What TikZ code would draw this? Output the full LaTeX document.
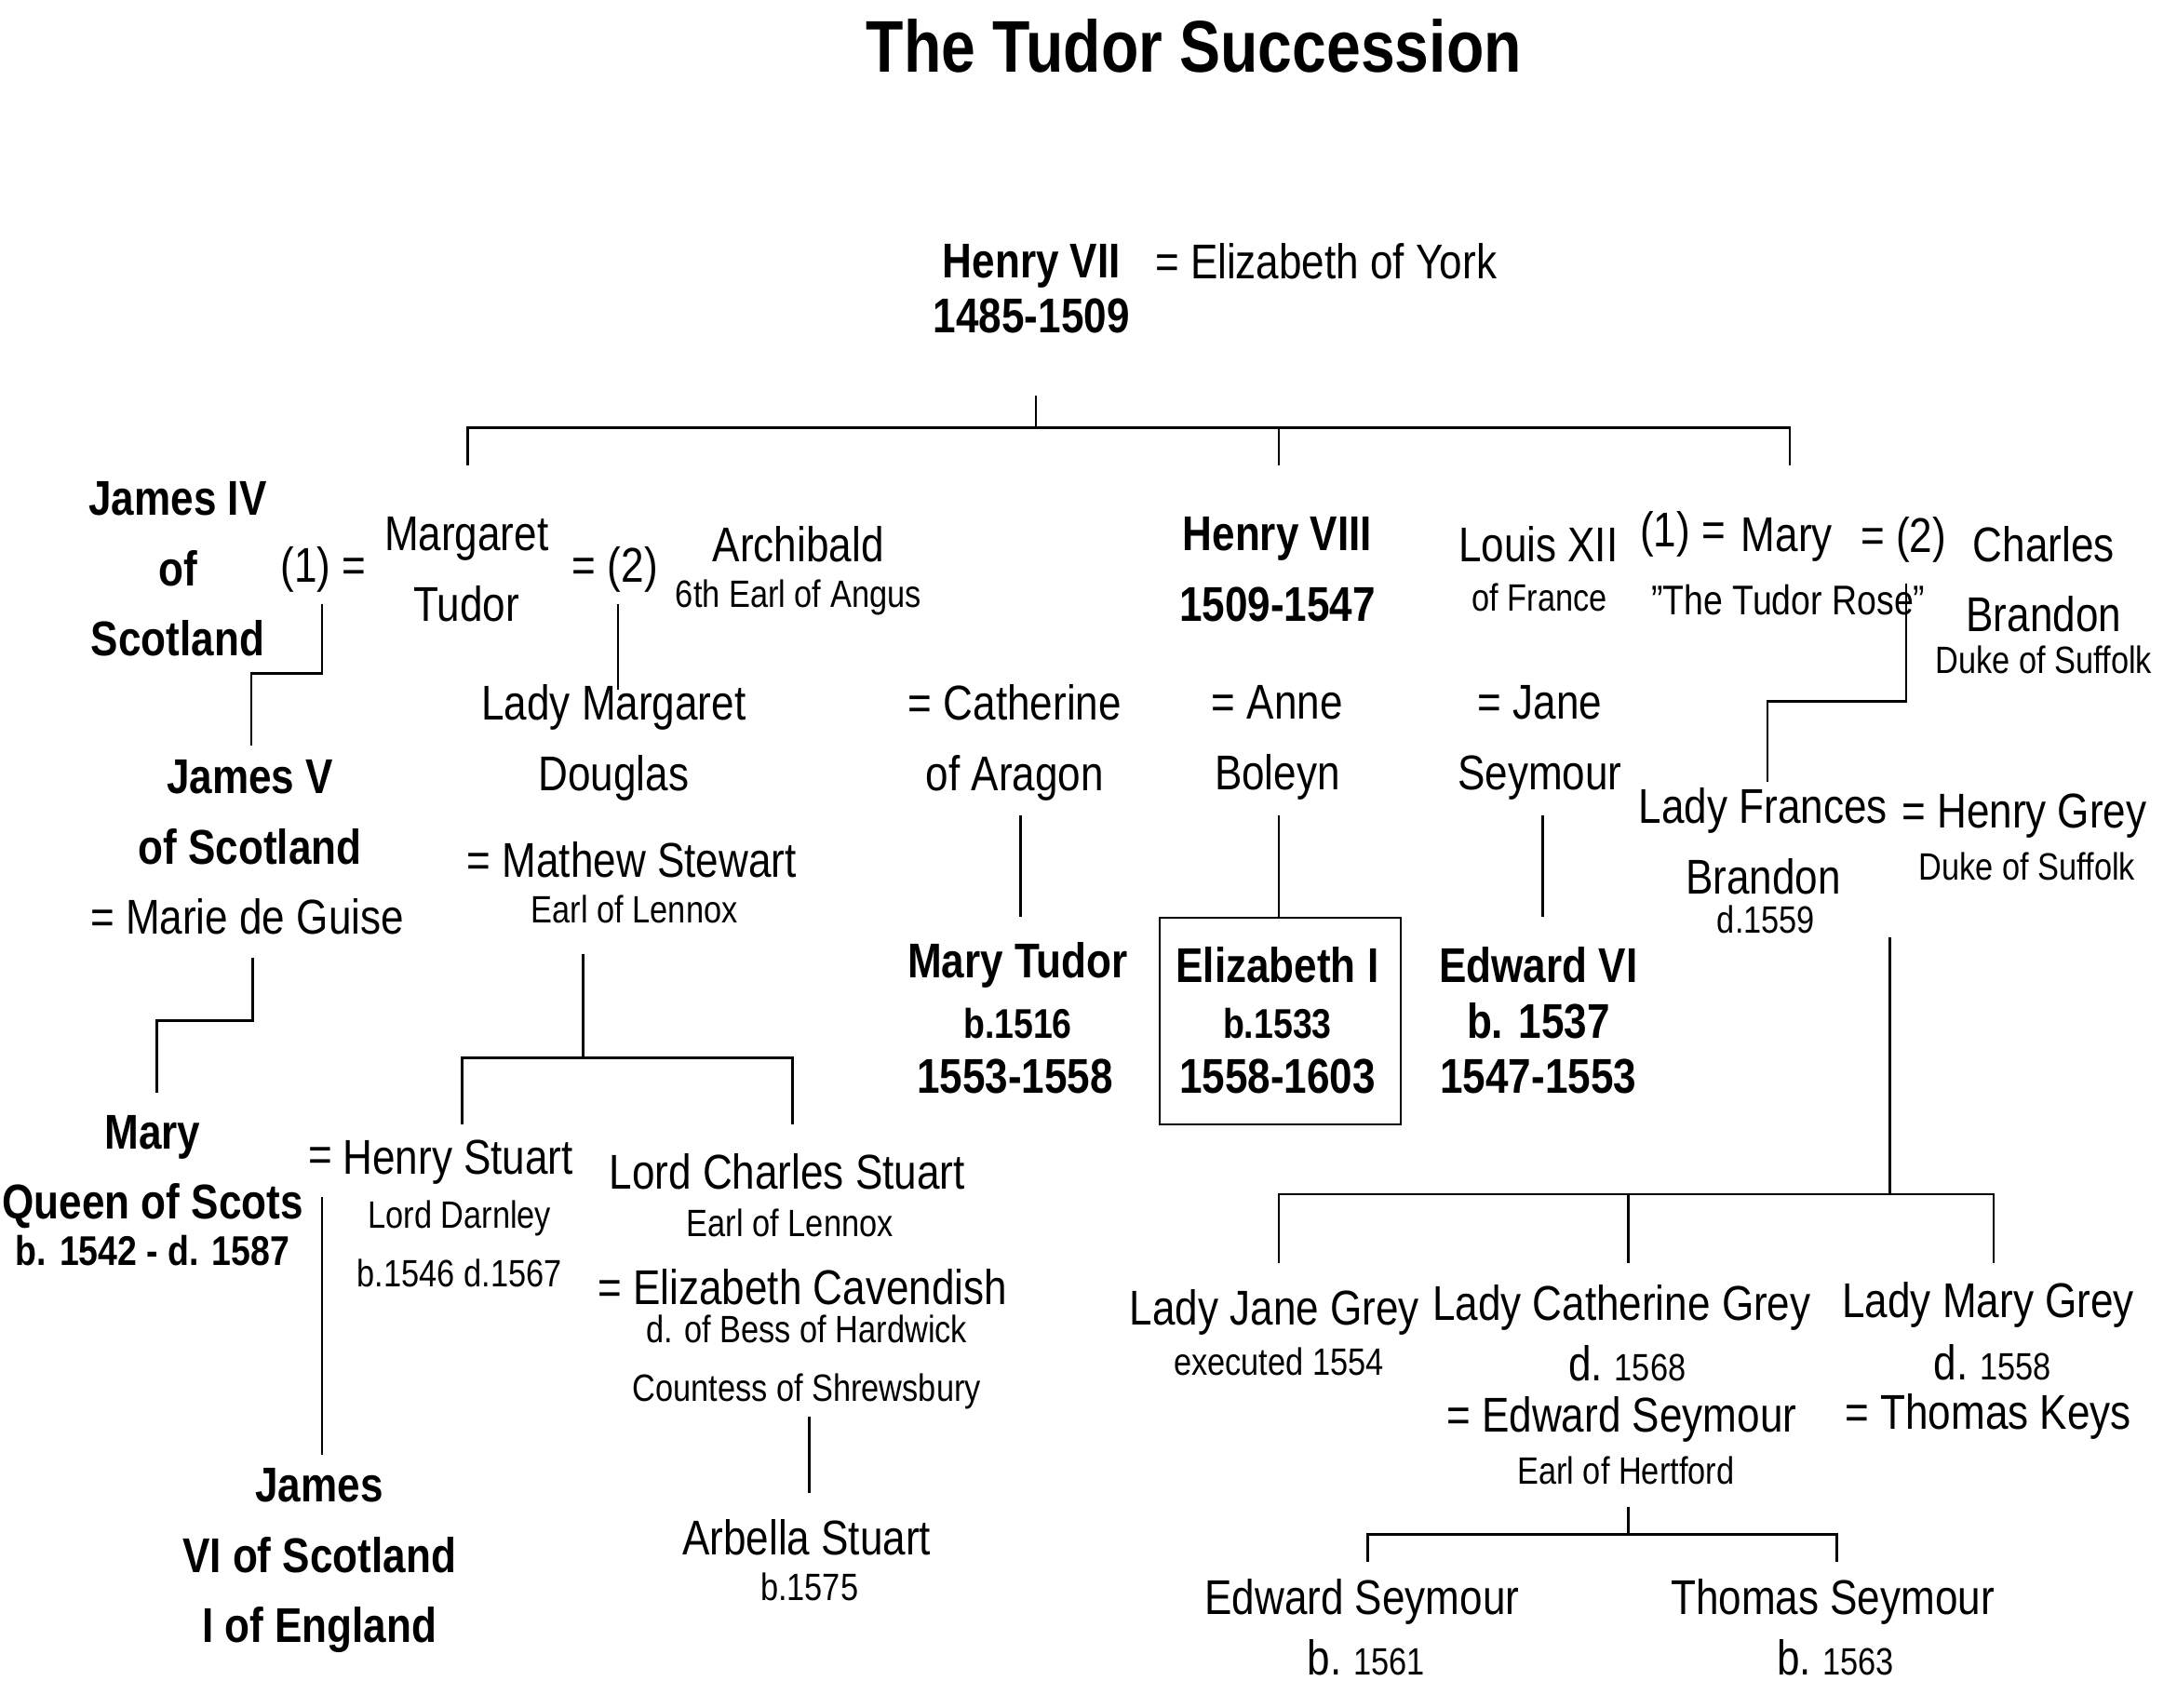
\documentclass[tikz,border=0pt]{standalone}
\usepackage{fontspec}
\setmainfont{Liberation Sans}[FakeStretch=0.84]
\begin{document}
\begin{tikzpicture}[x=0.01cm,y=-0.01cm,
  nm/.style={inner sep=0pt,align=center,font=\fontsize{10}{11.4}\selectfont},
  bnm/.style={nm,font=\fontsize{10}{11.4}\selectfont\bfseries},
  sm/.style={inner sep=0pt,align=center,font=\fontsize{7.8}{9}\selectfont},
  bsm/.style={sm,font=\fontsize{7.8}{9}\selectfont\bfseries},
  ln/.style={draw,line width=0.5pt}]
\useasboundingbox (0,0) rectangle (1568,1230);
\node[inner sep=0pt,font=\fontsize{15}{18}\selectfont\bfseries] (title) at (860,33) {The Tudor Succession};
% Henry VII
\node[bnm] (henry7) at (743,208) {Henry VII\\1485-1509};
\node[nm] (eyork) at (955,188) {= Elizabeth of York};
\coordinate (h7a) at (746,285); \coordinate (h7b) at (746,308);
\coordinate (hl) at (337,308); \coordinate (hr) at (1289,308); \coordinate (hm) at (921,308);
\coordinate (hld) at (337,335); \coordinate (hrd) at (1289,335); \coordinate (hmd) at (921,335);
\draw[ln] (h7a) -- (h7b);
\draw[ln] (hld) -- (hl) -- (hr) -- (hrd);
\draw[ln] (hm) -- (hmd);
% Margaret's line
\node[bnm] (james4) at (128,410) {James IV\\[3pt]of\\[3pt]Scotland};
\node[nm] (m1) at (233,410) {(1) =};
\node[nm] (margaret) at (336,410) {Margaret\\[3pt]Tudor};
\node[nm] (m2) at (443,410) {= (2)};
\node[nm] (archibald) at (575,392) {Archibald};
\node[sm] (angus) at (575,430) {6th Earl of Angus};
\node[bnm] (james5) at (180,585) {James V\\[3pt]of Scotland};
\node[nm] (marie) at (178,660) {= Marie de Guise};
\coordinate (j4a) at (232,435); \coordinate (j4b) at (232,485);
\coordinate (j4c) at (181,485); \coordinate (j4d) at (181,537);
\draw[ln] (j4a) -- (j4b) -- (j4c) -- (j4d);
\coordinate (j5a) at (182,690); \coordinate (j5b) at (182,735);
\coordinate (j5c) at (113,735); \coordinate (j5d) at (113,787);
\draw[ln] (j5a) -- (j5b) -- (j5c) -- (j5d);
\node[bnm] (maryqs) at (110,844) {Mary\\[3pt]Queen of Scots};
\node[bsm,font=\fontsize{8.5}{10}\selectfont\bfseries] (maryqsd) at (110,901) {b. 1542 - d. 1587};
\node[nm] (mq) at (231,835) {=};
\node[nm] (hstuart) at (330,837) {Henry Stuart};
\node[sm] (darnley) at (331,896) {Lord Darnley\\[3pt]b.1546 d.1567};
\coordinate (mqa) at (232,862); \coordinate (mqb) at (232,1048);
\draw[ln] (mqa) -- (mqb);
\node[bnm] (james6) at (230,1124) {James\\[3pt]VI of Scotland\\[3pt]I of England};
\node[nm] (lmd) at (442,535) {Lady Margaret\\[3pt]Douglas};
\coordinate (m2a) at (445,435); \coordinate (m2b) at (445,497);
\draw[ln] (m2a) -- (m2b);
\node[nm] (mathew) at (455,619) {= Mathew Stewart};
\node[sm] (lennox) at (457,655) {Earl of Lennox};
\coordinate (msa) at (420,687); \coordinate (msb) at (420,762);
\coordinate (msl) at (333,762); \coordinate (msr) at (571,762);
\coordinate (msld) at (333,810); \coordinate (msrd) at (571,810);
\draw[ln] (msa) -- (msb);
\draw[ln] (msld) -- (msl) -- (msr) -- (msrd);
\node[nm] (charles) at (567,844) {Lord Charles Stuart};
\node[sm] (lennox2) at (569,881) {Earl of Lennox};
\node[nm] (cavendish) at (578,927) {= Elizabeth Cavendish};
\node[sm] (bess) at (581,981) {d. of Bess of Hardwick\\[3pt]Countess of Shrewsbury};
\coordinate (cva) at (583,1020); \coordinate (cvb) at (583,1075);
\draw[ln] (cva) -- (cvb);
\node[nm] (arbella) at (581,1107) {Arbella Stuart};
\node[sm] (arbellab) at (583,1143) {b.1575};
% Henry VIII
\node[bnm] (henry8) at (920,410) {Henry VIII\\[3pt]1509-1547};
\node[nm] (catherine) at (731,535) {= Catherine\\[3pt]of Aragon};
\node[nm] (anne) at (920,535) {= Anne\\[3pt]Boleyn};
\node[nm] (jane) at (1109,535) {= Jane\\[3pt]Seymour};
\coordinate (caa) at (735,587); \coordinate (cab) at (735,660);
\coordinate (aba) at (921,587); \coordinate (abb) at (921,660);
\coordinate (jsa) at (1111,587); \coordinate (jsb) at (1111,660);
\draw[ln] (caa) -- (cab);
\draw[ln] (aba) -- (abb);
\draw[ln] (jsa) -- (jsb);
\node[bnm] (marytudor) at (733,695) {Mary Tudor};
\node[bsm,font=\fontsize{8.5}{10}\selectfont\bfseries] (mtb) at (733,737) {b.1516};
\node[bnm] (mtr) at (731,775) {1553-1558};
\draw[line width=0.4pt] (835,661) rectangle (1009,810);
\node[bnm] (eliz1) at (920,695) {Elizabeth I};
\node[bsm,font=\fontsize{8.5}{10}\selectfont\bfseries] (e1b) at (920,737) {b.1533};
\node[bnm] (e1r) at (920,775) {1558-1603};
\node[bnm] (edward6) at (1108,695) {Edward VI};
\node[bnm] (e6b) at (1108,735) {b. 1537};
\node[bnm] (e6r) at (1108,775) {1547-1553};
% Mary Tudor Rose
\node[nm] (louis) at (1108,392) {Louis XII};
\node[sm] (france) at (1109,430) {of France};
\node[nm] (r1) at (1212,385) {(1) =};
\node[nm] (mary) at (1287,389) {Mary};
\node[sm,font=\fontsize{8.5}{10}\selectfont] (rose) at (1288,432) {"The Tudor Rose"};
\node[nm] (r2) at (1371,389) {= (2)};
\node[nm] (brandon) at (1472,417) {Charles\\[3pt]Brandon};
\node[sm] (suffolk) at (1472,475) {Duke of Suffolk};
\coordinate (r2a) at (1373,420); \coordinate (r2b) at (1373,505);
\coordinate (r2c) at (1273,505); \coordinate (r2d) at (1273,563);
\draw[ln] (r2a) -- (r2b) -- (r2c) -- (r2d);
\node[nm] (frances) at (1270,606) {Lady Frances\\[3pt]Brandon};
\node[sm] (fd) at (1272,662) {d.1559};
\node[nm] (hgrey) at (1458,588) {= Henry Grey};
\node[sm] (suffolk2) at (1460,624) {Duke of Suffolk};
\coordinate (hga) at (1361,675); \coordinate (hgb) at (1361,860);
\coordinate (hgl) at (921,860); \coordinate (hgm) at (1173,860); \coordinate (hgr) at (1436,860);
\coordinate (hgld) at (921,910); \coordinate (hgmd) at (1173,910); \coordinate (hgrd) at (1436,910);
\draw[ln] (hga) -- (hgb);
\draw[ln] (hgld) -- (hgl) -- (hgr) -- (hgrd);
\draw[ln] (hgm) -- (hgmd);
\node[nm] (janegrey) at (918,945) {Lady Jane Grey};
\node[sm] (executed) at (921,981) {executed 1554};
\node[nm] (cathgrey) at (1168,942) {Lady Catherine Grey};
\node[sm] (cgd) at (1172,982) {{\fontsize{10}{11}\selectfont d.} 1568};
\node[nm] (eseymour) at (1168,1022) {= Edward Seymour};
\node[sm] (hertford) at (1171,1059) {Earl of Hertford};
\node[nm] (marygrey) at (1432,940) {Lady Mary Grey};
\node[sm] (mgd) at (1435,981) {{\fontsize{10}{11}\selectfont d.} 1558};
\node[nm] (keys) at (1432,1020) {= Thomas Keys};
\coordinate (esa) at (1173,1085); \coordinate (esb) at (1173,1105);
\coordinate (esl) at (985,1105); \coordinate (esr) at (1323,1105);
\coordinate (esld) at (985,1125); \coordinate (esrd) at (1323,1125);
\draw[ln] (esa) -- (esb);
\draw[ln] (esld) -- (esl) -- (esr) -- (esrd);
\node[nm] (edsey) at (981,1154) {Edward Seymour};
\node[sm] (edb) at (984,1194) {{\fontsize{10}{11}\selectfont b.} 1561};
\node[nm] (thsey) at (1320,1154) {Thomas Seymour};
\node[sm] (thb) at (1322,1194) {{\fontsize{10}{11}\selectfont b.} 1563};
\end{tikzpicture}
\end{document}
